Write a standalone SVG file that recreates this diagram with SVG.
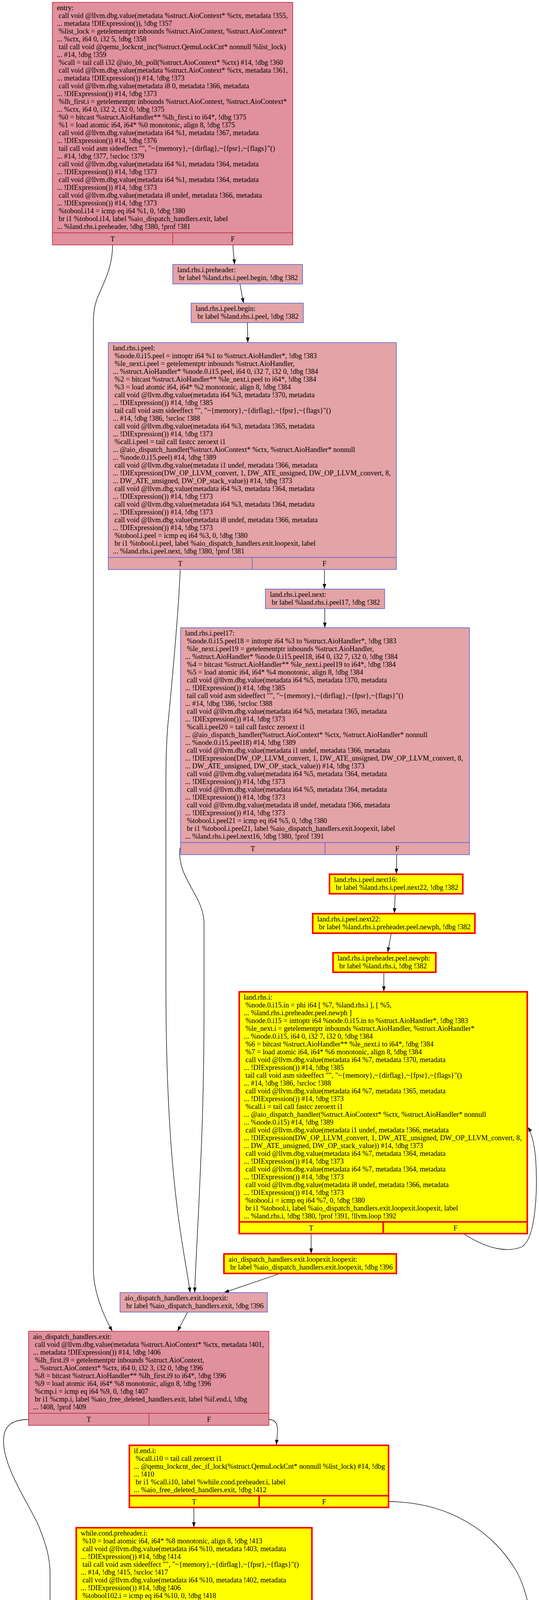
<svg xmlns="http://www.w3.org/2000/svg" width="1379" height="7681" viewBox="0 0 1379 7681">
<style>
.t{font-family:"Liberation Serif","Times New Roman",serif;font-size:18.3px;fill:#000}
.c{text-anchor:middle}
.pr{fill:#e0919d;stroke:#c41e3a;stroke-width:1.5}
.pb{fill:#e4a3a6;stroke:#4b5fd6;stroke-width:1.5}
.y{fill:#ffff00;stroke:#ff0000;stroke-width:4}
.spr{fill:none;stroke:#c41e3a;stroke-width:1.5}
.spb{fill:none;stroke:#4b5fd6;stroke-width:1.5}
.sy{fill:none;stroke:#ff0000;stroke-width:4}
.e{fill:none;stroke:#000;stroke-width:1.3;marker-end:url(#a)}
</style>
<defs>
<marker id="a" markerUnits="userSpaceOnUse" markerWidth="14" markerHeight="10" refX="13" refY="5" orient="auto" viewBox="0 0 14 10"><path d="M0,0.5 L13,5 L0,9.5 z" fill="#000"/></marker>
</defs>
<rect width="1379" height="7681" fill="#fff"/>
<g id="connectors">
<path class="e" d="M596,627 C596,642 599,660 600,677"/>
<path class="e" d="M288,627 C288,680 270,715 250,760 C241,785 239,800 239,830 L239,3250 C239,3300 260,3360 287.5,3408"/>
<path class="e" d="M614,727 C617,745 620,760 623,776"/>
<path class="e" d="M633,826 L634,877"/>
<path class="e" d="M830,1458 L830,1508"/>
<path class="e" d="M461,1458 C458,1550 440,1750 429,1861 C426,1900 424.5,1930 424.5,1990 L424.5,2520 C424.5,2700 430,2900 452,3081 C462,3170 478,3250 486.5,3309"/>
<path class="e" d="M831,1558 L831,1607"/>
<path class="e" d="M1015,2188 L1014,2237"/>
<path class="e" d="M463,2168 C457,2175 459,2200 467,2226 C485,2275 520,2310 522,2360 L522,2590 C522,2800 515,2950 508,3100 C504,3180 500,3250 498,3309"/>
<path class="e" d="M1011,2289 L1009,2338"/>
<path class="e" d="M1001,2389 L992,2438"/>
<path class="e" d="M982,2489 L982,2538"/>
<path class="e" d="M796,3159 L796,3209"/>
<path class="e" d="M1187,3159 C1235,3190 1290,3210 1335,3192 C1372,3170 1376,3040 1370,2960 C1366,2925 1360,2900 1350,2885"/>
<path class="e" d="M717,3260 L573,3309"/>
<path class="e" d="M480,3359 L454,3408"/>
<path class="e" d="M687.5,3634 C700,3634 710,3640 710,3660 C710,3675 708,3688 707,3699"/>
<path class="e" d="M73,3634 C30,3634 9,3650 9,3690 C9,3760 80,3860 100,3909 C120,3960 128,3990 128,4030 L128,7300 C128,7360 150,7415 202,7455"/>
<path class="e" d="M496,3860 L496,3910"/>
<path class="e" d="M995,3844 C1150,3846 1260,3920 1320,4020 C1360,4090 1368,4200 1368,4300 L1368,7220 C1368,7320 1200,7410 793,7496"/>
<path class="e" d="M194,4135 C175,4137 161,4145 161,4180 L161,4240 C161,4330 179,4400 179,4450 L180,7070 C180,7130 240,7180 290,7240 C320,7280 350,7300 383,7314"/>
<path class="e" d="M647,4151 C648,4170 650,4185 652,4200"/>
<path class="e" d="M665,4251 L667,4300"/>
<path class="e" d="M524,4562 L524,4911"/>
<path class="e" d="M985.5,4547 C1010,4547 1030,4570 1033,4611"/>
<path class="e" d="M855,4862 L793,4911"/>
<path class="e" d="M678.5,5312 L678.5,5362"/>
<path class="e" d="M371,5312 C368,5400 364,5500 364,5600 C364,5640 372,5660 385,5682"/>
<path class="e" d="M612,5632 L596,5682"/>
<path class="e" d="M678.5,6043 C678,6065 672,6080 669,6092"/>
<path class="e" d="M216,6027 C210,6027 207,6035 207,6060 L207,6111 C215,6300 240,6500 262,6640 C275,6740 295,6820 343,6863"/>
<path class="e" d="M743,6293 C743,6315 738,6330 735,6343"/>
<path class="e" d="M280.5,6278 C272,6280 268,6290 268,6320 C268,6420 280,6560 314,6595 C335,6615 350,6628 368,6643"/>
<path class="e" d="M630,6593 L627,6643"/>
<path class="e" d="M618,6813 L618,6863"/>
<path class="e" d="M912,7150 C990,7145 1040,7120 1058,7080 C1068,7050 1069,7000 1068,6960 C1066,6880 1040,6760 1020,6680 C1005,6600 992,6400 992,6250 L992,5830 C995,5700 1010,5600 1020,5500 C1030,5300 1010,5150 942,5031 C900,4960 870,4910 835,4893 C790,4887 740,4885 712,4863 C670,4830 648,4700 648,4563"/>
<path class="e" d="M470.5,7164 L470.5,7214"/>
<path class="e" d="M470.5,7265 L470.5,7314"/>
<path class="e" d="M470.5,7404 L470.5,7455"/>
</g>
<g id="entry">
<rect class="pr" x="134" y="6" width="615" height="621"/>
<path class="spr" d="M134,596 H749 M442,596 V627"/>
<text class="t" xml:space="preserve"><tspan x="145.5" y="25.5">entry:</tspan><tspan x="145.5" dy="20"> call void @llvm.dbg.value(metadata %struct.AioContext* %ctx, metadata !355,</tspan><tspan x="145.5" dy="20">... metadata !DIExpression()), !dbg !357</tspan><tspan x="145.5" dy="20"> %list_lock = getelementptr inbounds %struct.AioContext, %struct.AioContext*</tspan><tspan x="145.5" dy="20">... %ctx, i64 0, i32 5, !dbg !358</tspan><tspan x="145.5" dy="20"> tail call void @qemu_lockcnt_inc(%struct.QemuLockCnt* nonnull %list_lock)</tspan><tspan x="145.5" dy="20">... #14, !dbg !359</tspan><tspan x="145.5" dy="20"> %call = tail call i32 @aio_bh_poll(%struct.AioContext* %ctx) #14, !dbg !360</tspan><tspan x="145.5" dy="20"> call void @llvm.dbg.value(metadata %struct.AioContext* %ctx, metadata !361,</tspan><tspan x="145.5" dy="20">... metadata !DIExpression()) #14, !dbg !373</tspan><tspan x="145.5" dy="20"> call void @llvm.dbg.value(metadata i8 0, metadata !366, metadata</tspan><tspan x="145.5" dy="20">... !DIExpression()) #14, !dbg !373</tspan><tspan x="145.5" dy="20"> %lh_first.i = getelementptr inbounds %struct.AioContext, %struct.AioContext*</tspan><tspan x="145.5" dy="20">... %ctx, i64 0, i32 2, i32 0, !dbg !375</tspan><tspan x="145.5" dy="20"> %0 = bitcast %struct.AioHandler** %lh_first.i to i64*, !dbg !375</tspan><tspan x="145.5" dy="20"> %1 = load atomic i64, i64* %0 monotonic, align 8, !dbg !375</tspan><tspan x="145.5" dy="20"> call void @llvm.dbg.value(metadata i64 %1, metadata !367, metadata</tspan><tspan x="145.5" dy="20">... !DIExpression()) #14, !dbg !376</tspan><tspan x="145.5" dy="20"> tail call void asm sideeffect "", "~{memory},~{dirflag},~{fpsr},~{flags}"()</tspan><tspan x="145.5" dy="20">... #14, !dbg !377, !srcloc !379</tspan><tspan x="145.5" dy="20"> call void @llvm.dbg.value(metadata i64 %1, metadata !364, metadata</tspan><tspan x="145.5" dy="20">... !DIExpression()) #14, !dbg !373</tspan><tspan x="145.5" dy="20"> call void @llvm.dbg.value(metadata i64 %1, metadata !364, metadata</tspan><tspan x="145.5" dy="20">... !DIExpression()) #14, !dbg !373</tspan><tspan x="145.5" dy="20"> call void @llvm.dbg.value(metadata i8 undef, metadata !366, metadata</tspan><tspan x="145.5" dy="20">... !DIExpression()) #14, !dbg !373</tspan><tspan x="145.5" dy="20"> %tobool.i14 = icmp eq i64 %1, 0, !dbg !380</tspan><tspan x="145.5" dy="20"> br i1 %tobool.i14, label %aio_dispatch_handlers.exit, label</tspan><tspan x="145.5" dy="20">... %land.rhs.i.preheader, !dbg !380, !prof !381</tspan></text>
<text class="t c" x="288" y="617.5">T</text><text class="t c" x="595.5" y="617.5">F</text>
</g>
<g id="land.rhs.i.preheader">
<rect class="pb" x="442" y="677" width="332" height="50"/>
<text class="t" xml:space="preserve"><tspan x="453.5" y="696.5">land.rhs.i.preheader:</tspan><tspan x="453.5" dy="20"> br label %land.rhs.i.peel.begin, !dbg !382</tspan></text>
</g>
<g id="land.rhs.i.peel.begin">
<rect class="pb" x="489" y="776" width="287" height="50"/>
<text class="t" xml:space="preserve"><tspan x="500.5" y="795.5">land.rhs.i.peel.begin:</tspan><tspan x="500.5" dy="20"> br label %land.rhs.i.peel, !dbg !382</tspan></text>
</g>
<g id="land.rhs.i.peel">
<rect class="pb" x="277" y="877" width="737" height="581"/>
<path class="spb" d="M277,1427 H1014 M645.5,1427 V1458"/>
<text class="t" xml:space="preserve"><tspan x="288.5" y="896.5">land.rhs.i.peel:</tspan><tspan x="288.5" dy="20"> %node.0.i15.peel = inttoptr i64 %1 to %struct.AioHandler*, !dbg !383</tspan><tspan x="288.5" dy="20"> %le_next.i.peel = getelementptr inbounds %struct.AioHandler,</tspan><tspan x="288.5" dy="20">... %struct.AioHandler* %node.0.i15.peel, i64 0, i32 7, i32 0, !dbg !384</tspan><tspan x="288.5" dy="20"> %2 = bitcast %struct.AioHandler** %le_next.i.peel to i64*, !dbg !384</tspan><tspan x="288.5" dy="20"> %3 = load atomic i64, i64* %2 monotonic, align 8, !dbg !384</tspan><tspan x="288.5" dy="20"> call void @llvm.dbg.value(metadata i64 %3, metadata !370, metadata</tspan><tspan x="288.5" dy="20">... !DIExpression()) #14, !dbg !385</tspan><tspan x="288.5" dy="20"> tail call void asm sideeffect "", "~{memory},~{dirflag},~{fpsr},~{flags}"()</tspan><tspan x="288.5" dy="20">... #14, !dbg !386, !srcloc !388</tspan><tspan x="288.5" dy="20"> call void @llvm.dbg.value(metadata i64 %3, metadata !365, metadata</tspan><tspan x="288.5" dy="20">... !DIExpression()) #14, !dbg !373</tspan><tspan x="288.5" dy="20"> %call.i.peel = tail call fastcc zeroext i1</tspan><tspan x="288.5" dy="20">... @aio_dispatch_handler(%struct.AioContext* %ctx, %struct.AioHandler* nonnull</tspan><tspan x="288.5" dy="20">... %node.0.i15.peel) #14, !dbg !389</tspan><tspan x="288.5" dy="20"> call void @llvm.dbg.value(metadata i1 undef, metadata !366, metadata</tspan><tspan x="288.5" dy="20">... !DIExpression(DW_OP_LLVM_convert, 1, DW_ATE_unsigned, DW_OP_LLVM_convert, 8,</tspan><tspan x="288.5" dy="20">... DW_ATE_unsigned, DW_OP_stack_value)) #14, !dbg !373</tspan><tspan x="288.5" dy="20"> call void @llvm.dbg.value(metadata i64 %3, metadata !364, metadata</tspan><tspan x="288.5" dy="20">... !DIExpression()) #14, !dbg !373</tspan><tspan x="288.5" dy="20"> call void @llvm.dbg.value(metadata i64 %3, metadata !364, metadata</tspan><tspan x="288.5" dy="20">... !DIExpression()) #14, !dbg !373</tspan><tspan x="288.5" dy="20"> call void @llvm.dbg.value(metadata i8 undef, metadata !366, metadata</tspan><tspan x="288.5" dy="20">... !DIExpression()) #14, !dbg !373</tspan><tspan x="288.5" dy="20"> %tobool.i.peel = icmp eq i64 %3, 0, !dbg !380</tspan><tspan x="288.5" dy="20"> br i1 %tobool.i.peel, label %aio_dispatch_handlers.exit.loopexit, label</tspan><tspan x="288.5" dy="20">... %land.rhs.i.peel.next, !dbg !380, !prof !381</tspan></text>
<text class="t c" x="461" y="1448.5">T</text><text class="t c" x="830" y="1448.5">F</text>
</g>
<g id="land.rhs.i.peel.next">
<rect class="pb" x="679" y="1508" width="305" height="50"/>
<text class="t" xml:space="preserve"><tspan x="690.5" y="1527.5">land.rhs.i.peel.next:</tspan><tspan x="690.5" dy="20"> br label %land.rhs.i.peel17, !dbg !382</tspan></text>
</g>
<g id="land.rhs.i.peel17">
<rect class="pb" x="462" y="1607" width="739" height="581"/>
<path class="spb" d="M462,2157 H1201 M831.5,2157 V2188"/>
<text class="t" xml:space="preserve"><tspan x="473.5" y="1626.5">land.rhs.i.peel17:</tspan><tspan x="473.5" dy="20"> %node.0.i15.peel18 = inttoptr i64 %3 to %struct.AioHandler*, !dbg !383</tspan><tspan x="473.5" dy="20"> %le_next.i.peel19 = getelementptr inbounds %struct.AioHandler,</tspan><tspan x="473.5" dy="20">... %struct.AioHandler* %node.0.i15.peel18, i64 0, i32 7, i32 0, !dbg !384</tspan><tspan x="473.5" dy="20"> %4 = bitcast %struct.AioHandler** %le_next.i.peel19 to i64*, !dbg !384</tspan><tspan x="473.5" dy="20"> %5 = load atomic i64, i64* %4 monotonic, align 8, !dbg !384</tspan><tspan x="473.5" dy="20"> call void @llvm.dbg.value(metadata i64 %5, metadata !370, metadata</tspan><tspan x="473.5" dy="20">... !DIExpression()) #14, !dbg !385</tspan><tspan x="473.5" dy="20"> tail call void asm sideeffect "", "~{memory},~{dirflag},~{fpsr},~{flags}"()</tspan><tspan x="473.5" dy="20">... #14, !dbg !386, !srcloc !388</tspan><tspan x="473.5" dy="20"> call void @llvm.dbg.value(metadata i64 %5, metadata !365, metadata</tspan><tspan x="473.5" dy="20">... !DIExpression()) #14, !dbg !373</tspan><tspan x="473.5" dy="20"> %call.i.peel20 = tail call fastcc zeroext i1</tspan><tspan x="473.5" dy="20">... @aio_dispatch_handler(%struct.AioContext* %ctx, %struct.AioHandler* nonnull</tspan><tspan x="473.5" dy="20">... %node.0.i15.peel18) #14, !dbg !389</tspan><tspan x="473.5" dy="20"> call void @llvm.dbg.value(metadata i1 undef, metadata !366, metadata</tspan><tspan x="473.5" dy="20">... !DIExpression(DW_OP_LLVM_convert, 1, DW_ATE_unsigned, DW_OP_LLVM_convert, 8,</tspan><tspan x="473.5" dy="20">... DW_ATE_unsigned, DW_OP_stack_value)) #14, !dbg !373</tspan><tspan x="473.5" dy="20"> call void @llvm.dbg.value(metadata i64 %5, metadata !364, metadata</tspan><tspan x="473.5" dy="20">... !DIExpression()) #14, !dbg !373</tspan><tspan x="473.5" dy="20"> call void @llvm.dbg.value(metadata i64 %5, metadata !364, metadata</tspan><tspan x="473.5" dy="20">... !DIExpression()) #14, !dbg !373</tspan><tspan x="473.5" dy="20"> call void @llvm.dbg.value(metadata i8 undef, metadata !366, metadata</tspan><tspan x="473.5" dy="20">... !DIExpression()) #14, !dbg !373</tspan><tspan x="473.5" dy="20"> %tobool.i.peel21 = icmp eq i64 %5, 0, !dbg !380</tspan><tspan x="473.5" dy="20"> br i1 %tobool.i.peel21, label %aio_dispatch_handlers.exit.loopexit, label</tspan><tspan x="473.5" dy="20">... %land.rhs.i.peel.next16, !dbg !380, !prof !391</tspan></text>
<text class="t c" x="646.75" y="2178.5">T</text><text class="t c" x="1016.25" y="2178.5">F</text>
</g>
<g id="land.rhs.i.peel.next16">
<rect class="y" x="843" y="2238" width="341" height="50"/>
<text class="t" xml:space="preserve"><tspan x="854.5" y="2257.5">land.rhs.i.peel.next16:</tspan><tspan x="854.5" dy="20"> br label %land.rhs.i.peel.next22, !dbg !382</tspan></text>
</g>
<g id="land.rhs.i.peel.next22">
<rect class="y" x="800" y="2339" width="415" height="50"/>
<text class="t" xml:space="preserve"><tspan x="811.5" y="2358.5">land.rhs.i.peel.next22:</tspan><tspan x="811.5" dy="20"> br label %land.rhs.i.preheader.peel.newph, !dbg !382</tspan></text>
</g>
<g id="land.rhs.i.preheader.peel.newph">
<rect class="y" x="852" y="2439" width="263" height="50"/>
<text class="t" xml:space="preserve"><tspan x="863.5" y="2458.5">land.rhs.i.preheader.peel.newph:</tspan><tspan x="863.5" dy="20"> br label %land.rhs.i, !dbg !382</tspan></text>
</g>
<g id="land.rhs.i">
<rect class="y" x="612" y="2539" width="737" height="619"/>
<path class="sy" d="M612,3128 H1349 M980.5,3128 V3158"/>
<text class="t" xml:space="preserve"><tspan x="623.5" y="2558.5">land.rhs.i:</tspan><tspan x="623.5" dy="20"> %node.0.i15.in = phi i64 [ %7, %land.rhs.i ], [ %5,</tspan><tspan x="623.5" dy="20">... %land.rhs.i.preheader.peel.newph ]</tspan><tspan x="623.5" dy="20"> %node.0.i15 = inttoptr i64 %node.0.i15.in to %struct.AioHandler*, !dbg !383</tspan><tspan x="623.5" dy="20"> %le_next.i = getelementptr inbounds %struct.AioHandler, %struct.AioHandler*</tspan><tspan x="623.5" dy="20">... %node.0.i15, i64 0, i32 7, i32 0, !dbg !384</tspan><tspan x="623.5" dy="20"> %6 = bitcast %struct.AioHandler** %le_next.i to i64*, !dbg !384</tspan><tspan x="623.5" dy="20"> %7 = load atomic i64, i64* %6 monotonic, align 8, !dbg !384</tspan><tspan x="623.5" dy="20"> call void @llvm.dbg.value(metadata i64 %7, metadata !370, metadata</tspan><tspan x="623.5" dy="20">... !DIExpression()) #14, !dbg !385</tspan><tspan x="623.5" dy="20"> tail call void asm sideeffect "", "~{memory},~{dirflag},~{fpsr},~{flags}"()</tspan><tspan x="623.5" dy="20">... #14, !dbg !386, !srcloc !388</tspan><tspan x="623.5" dy="20"> call void @llvm.dbg.value(metadata i64 %7, metadata !365, metadata</tspan><tspan x="623.5" dy="20">... !DIExpression()) #14, !dbg !373</tspan><tspan x="623.5" dy="20"> %call.i = tail call fastcc zeroext i1</tspan><tspan x="623.5" dy="20">... @aio_dispatch_handler(%struct.AioContext* %ctx, %struct.AioHandler* nonnull</tspan><tspan x="623.5" dy="20">... %node.0.i15) #14, !dbg !389</tspan><tspan x="623.5" dy="20"> call void @llvm.dbg.value(metadata i1 undef, metadata !366, metadata</tspan><tspan x="623.5" dy="20">... !DIExpression(DW_OP_LLVM_convert, 1, DW_ATE_unsigned, DW_OP_LLVM_convert, 8,</tspan><tspan x="623.5" dy="20">... DW_ATE_unsigned, DW_OP_stack_value)) #14, !dbg !373</tspan><tspan x="623.5" dy="20"> call void @llvm.dbg.value(metadata i64 %7, metadata !364, metadata</tspan><tspan x="623.5" dy="20">... !DIExpression()) #14, !dbg !373</tspan><tspan x="623.5" dy="20"> call void @llvm.dbg.value(metadata i64 %7, metadata !364, metadata</tspan><tspan x="623.5" dy="20">... !DIExpression()) #14, !dbg !373</tspan><tspan x="623.5" dy="20"> call void @llvm.dbg.value(metadata i8 undef, metadata !366, metadata</tspan><tspan x="623.5" dy="20">... !DIExpression()) #14, !dbg !373</tspan><tspan x="623.5" dy="20"> %tobool.i = icmp eq i64 %7, 0, !dbg !380</tspan><tspan x="623.5" dy="20"> br i1 %tobool.i, label %aio_dispatch_handlers.exit.loopexit.loopexit, label</tspan><tspan x="623.5" dy="20">... %land.rhs.i, !dbg !380, !prof !391, !llvm.loop !392</tspan></text>
<text class="t c" x="796" y="3149.5">T</text><text class="t c" x="1165" y="3149.5">F</text>
</g>
<g id="aio_dispatch_handlers.exit.loopexit.loopexit">
<rect class="y" x="573" y="3210" width="441" height="50"/>
<text class="t" xml:space="preserve"><tspan x="584.5" y="3229.5">aio_dispatch_handlers.exit.loopexit.loopexit:</tspan><tspan x="584.5" dy="20"> br label %aio_dispatch_handlers.exit.loopexit, !dbg !396</tspan></text>
</g>
<g id="aio_dispatch_handlers.exit.loopexit">
<rect class="pb" x="307" y="3309" width="377" height="50"/>
<text class="t" xml:space="preserve"><tspan x="318.5" y="3328.5">aio_dispatch_handlers.exit.loopexit:</tspan><tspan x="318.5" dy="20"> br label %aio_dispatch_handlers.exit, !dbg !396</tspan></text>
</g>
<g id="aio_dispatch_handlers.exit">
<rect class="pr" x="73" y="3408" width="615" height="241"/>
<path class="spr" d="M73,3618 H688 M381,3618 V3649"/>
<text class="t" xml:space="preserve"><tspan x="84.5" y="3427.5">aio_dispatch_handlers.exit:</tspan><tspan x="84.5" dy="20"> call void @llvm.dbg.value(metadata %struct.AioContext* %ctx, metadata !401,</tspan><tspan x="84.5" dy="20">... metadata !DIExpression()) #14, !dbg !406</tspan><tspan x="84.5" dy="20"> %lh_first.i9 = getelementptr inbounds %struct.AioContext,</tspan><tspan x="84.5" dy="20">... %struct.AioContext* %ctx, i64 0, i32 3, i32 0, !dbg !396</tspan><tspan x="84.5" dy="20"> %8 = bitcast %struct.AioHandler** %lh_first.i9 to i64*, !dbg !396</tspan><tspan x="84.5" dy="20"> %9 = load atomic i64, i64* %8 monotonic, align 8, !dbg !396</tspan><tspan x="84.5" dy="20"> %cmp.i = icmp eq i64 %9, 0, !dbg !407</tspan><tspan x="84.5" dy="20"> br i1 %cmp.i, label %aio_free_deleted_handlers.exit, label %if.end.i, !dbg</tspan><tspan x="84.5" dy="20">... !408, !prof !409</tspan></text>
<text class="t c" x="227" y="3639.5">T</text><text class="t c" x="534.5" y="3639.5">F</text>
</g>
<g id="if.end.i">
<rect class="y" x="331" y="3700" width="663" height="159"/>
<path class="sy" d="M331,3829 H994 M663,3829 V3859"/>
<text class="t" xml:space="preserve"><tspan x="342.5" y="3719.5">if.end.i:</tspan><tspan x="342.5" dy="20"> %call.i10 = tail call zeroext i1</tspan><tspan x="342.5" dy="20">... @qemu_lockcnt_dec_if_lock(%struct.QemuLockCnt* nonnull %list_lock) #14, !dbg</tspan><tspan x="342.5" dy="20">... !410</tspan><tspan x="342.5" dy="20"> br i1 %call.i10, label %while.cond.preheader.i, label</tspan><tspan x="342.5" dy="20">... %aio_free_deleted_handlers.exit, !dbg !412</tspan></text>
<text class="t c" x="496.5" y="3850.5">T</text><text class="t c" x="829" y="3850.5">F</text>
</g>
<g id="while.cond.preheader.i">
<rect class="y" x="195" y="3911" width="603" height="239"/>
<path class="sy" d="M195,4120 H798 M496.5,4120 V4150"/>
<text class="t" xml:space="preserve"><tspan x="206.5" y="3930.5">while.cond.preheader.i:</tspan><tspan x="206.5" dy="20"> %10 = load atomic i64, i64* %8 monotonic, align 8, !dbg !413</tspan><tspan x="206.5" dy="20"> call void @llvm.dbg.value(metadata i64 %10, metadata !403, metadata</tspan><tspan x="206.5" dy="20">... !DIExpression()) #14, !dbg !414</tspan><tspan x="206.5" dy="20"> tail call void asm sideeffect "", "~{memory},~{dirflag},~{fpsr},~{flags}"()</tspan><tspan x="206.5" dy="20">... #14, !dbg !415, !srcloc !417</tspan><tspan x="206.5" dy="20"> call void @llvm.dbg.value(metadata i64 %10, metadata !402, metadata</tspan><tspan x="206.5" dy="20">... !DIExpression()) #14, !dbg !406</tspan><tspan x="206.5" dy="20"> %tobool102.i = icmp eq i64 %10, 0, !dbg !418</tspan><tspan x="206.5" dy="20"> br i1 %tobool102.i, label %while.end.i, label %do.body.i.preheader, !dbg !418</tspan></text>
<text class="t c" x="345.5" y="4141.5">T</text><text class="t c" x="647.5" y="4141.5">F</text>
</g>
<g id="do.body.i.preheader">
<rect class="y" x="536.5" y="4201" width="252.5" height="50"/>
<text class="t" xml:space="preserve"><tspan x="548" y="4220.5">do.body.i.preheader:</tspan><tspan x="548" dy="20"> br label %do.body.i, !dbg !418</tspan></text>
</g>
<g id="do.body.i">
<rect class="y" x="371" y="4301" width="613.5" height="261"/>
<path class="sy" d="M371,4531 H984.5 M678.5,4531 V4562"/>
<text class="t" xml:space="preserve"><tspan x="382.5" y="4320.5">do.body.i:</tspan><tspan x="382.5" dy="20"> %.in.i = phi i64 [ %35, %do.end69.i ], [ %10, %do.body.i.preheader ]</tspan><tspan x="382.5" dy="20"> %11 = inttoptr i64 %.in.i to %struct.AioHandler*, !dbg !413</tspan><tspan x="382.5" dy="20"> %node6.i = getelementptr inbounds %struct.AioHandler, %struct.AioHandler*</tspan><tspan x="382.5" dy="20">... %11, i64 0, i32 7, !dbg !419</tspan><tspan x="382.5" dy="20"> %le_next.i11 = getelementptr inbounds %struct.anon, %struct.anon* %node6.i,</tspan><tspan x="382.5" dy="20">... i64 0, i32 0, !dbg !419</tspan><tspan x="382.5" dy="20"> %12 = load %struct.AioHandler*, %struct.AioHandler** %le_next.i11, align 8,</tspan><tspan x="382.5" dy="20">... !dbg !419</tspan><tspan x="382.5" dy="20"> %cmp7.i = icmp eq %struct.AioHandler* %12, null, !dbg !419</tspan><tspan x="382.5" dy="20"> br i1 %cmp7.i, label %if.end14.i, label %if.then8.i, !dbg !423</tspan></text>
<text class="t c" x="524.5" y="4552.5">T</text><text class="t c" x="831.5" y="4552.5">F</text>
</g>
<g id="if.then8.i">
<rect class="y" x="716" y="4612" width="615" height="249"/>
<text class="t" xml:space="preserve"><tspan x="727.5" y="4631.5">if.then8.i:</tspan><tspan x="727.5" dy="20"> %le_prev.i = getelementptr inbounds %struct.AioHandler, %struct.AioHandler*</tspan><tspan x="727.5" dy="20">... %11, i64 0, i32 7, i32 1, !dbg !419</tspan><tspan x="727.5" dy="20"> %13 = bitcast %struct.AioHandler*** %le_prev.i to i64*, !dbg !419</tspan><tspan x="727.5" dy="20"> %14 = load i64, i64* %13, align 8, !dbg !419</tspan><tspan x="727.5" dy="20"> %le_prev13.i = getelementptr inbounds %struct.AioHandler,</tspan><tspan x="727.5" dy="20">... %struct.AioHandler* %12, i64 0, i32 7, i32 1, !dbg !419</tspan><tspan x="727.5" dy="20"> %15 = bitcast %struct.AioHandler*** %le_prev13.i to i64*, !dbg !419</tspan><tspan x="727.5" dy="20"> store i64 %14, i64* %15, align 8, !dbg !419</tspan><tspan x="727.5" dy="20"> %.phi.trans.insert.i = bitcast %struct.anon* %node6.i to i64*, !dbg !424</tspan><tspan x="727.5" dy="20"> %.pre.i = load i64, i64* %.phi.trans.insert.i, align 8, !dbg !423</tspan><tspan x="727.5" dy="20"> br label %if.end14.i, !dbg !419</tspan></text>
</g>
<g id="if.end14.i">
<rect class="y" x="217" y="4912" width="614" height="400"/>
<path class="sy" d="M217,5281 H831 M525.5,5281 V5312"/>
<text class="t" xml:space="preserve"><tspan x="228.5" y="4931.5">if.end14.i:</tspan><tspan x="228.5" dy="20"> %16 = phi i64 [ %.pre.i, %if.then8.i ], [ 0, %do.body.i ], !dbg !423</tspan><tspan x="228.5" dy="20"> %le_prev18.i = getelementptr inbounds %struct.AioHandler,</tspan><tspan x="228.5" dy="20">... %struct.AioHandler* %11, i64 0, i32 7, i32 1, !dbg !423</tspan><tspan x="228.5" dy="20"> %17 = bitcast %struct.AioHandler*** %le_prev18.i to i64**, !dbg !423</tspan><tspan x="228.5" dy="20"> %18 = load i64*, i64** %17, align 8, !dbg !423</tspan><tspan x="228.5" dy="20"> store i64 %16, i64* %18, align 8, !dbg !423</tspan><tspan x="228.5" dy="20"> %node_deleted.i = getelementptr inbounds %struct.AioHandler,</tspan><tspan x="228.5" dy="20">... %struct.AioHandler* %11, i64 0, i32 9, !dbg !425</tspan><tspan x="228.5" dy="20"> %le_next24.i = getelementptr inbounds %struct.anon.1, %struct.anon.1*</tspan><tspan x="228.5" dy="20">... %node_deleted.i, i64 0, i32 0, !dbg !425</tspan><tspan x="228.5" dy="20"> %19 = bitcast %struct.anon* %node6.i to i8*, !dbg !425</tspan><tspan x="228.5" dy="20"> tail call void @llvm.memset.p0i8.i64(i8* nonnull align 8 dereferenceable(16)</tspan><tspan x="228.5" dy="20">... %19, i8 0, i64 16, i1 false) #14, !dbg !423</tspan><tspan x="228.5" dy="20"> %20 = load %struct.AioHandler*, %struct.AioHandler** %le_next24.i, align 8,</tspan><tspan x="228.5" dy="20">... !dbg !425</tspan><tspan x="228.5" dy="20"> %cmp25.i = icmp eq %struct.AioHandler* %20, null, !dbg !425</tspan><tspan x="228.5" dy="20"> br i1 %cmp25.i, label %if.end33.i, label %if.then26.i, !dbg !428</tspan></text>
<text class="t c" x="371" y="5302.5">T</text><text class="t c" x="678.5" y="5302.5">F</text>
</g>
<g id="if.then26.i">
<rect class="y" x="379.5" y="5363" width="572" height="269"/>
<text class="t" xml:space="preserve"><tspan x="391" y="5382.5">if.then26.i:</tspan><tspan x="391" dy="20"> %le_prev28.i = getelementptr inbounds %struct.AioHandler,</tspan><tspan x="391" dy="20">... %struct.AioHandler* %11, i64 0, i32 9, i32 1, !dbg !425</tspan><tspan x="391" dy="20"> %21 = bitcast %struct.AioHandler*** %le_prev28.i to i64*, !dbg !425</tspan><tspan x="391" dy="20"> %22 = load i64, i64* %21, align 8, !dbg !425</tspan><tspan x="391" dy="20"> %le_prev32.i = getelementptr inbounds %struct.AioHandler,</tspan><tspan x="391" dy="20">... %struct.AioHandler* %20, i64 0, i32 9, i32 1, !dbg !425</tspan><tspan x="391" dy="20"> %23 = bitcast %struct.AioHandler*** %le_prev32.i to i64*, !dbg !425</tspan><tspan x="391" dy="20"> store i64 %22, i64* %23, align 8, !dbg !425</tspan><tspan x="391" dy="20"> %.phi.trans.insert103.i = bitcast %struct.anon.1* %node_deleted.i to i64*,</tspan><tspan x="391" dy="20">... !dbg !429</tspan><tspan x="391" dy="20"> %.pre104.i = load i64, i64* %.phi.trans.insert103.i, align 8, !dbg !428</tspan><tspan x="391" dy="20"> br label %if.end33.i, !dbg !425</tspan></text>
</g>
<g id="if.end33.i">
<rect class="y" x="217" y="5683" width="614" height="360"/>
<path class="sy" d="M217,6012 H831 M525.5,6012 V6043"/>
<text class="t" xml:space="preserve"><tspan x="228.5" y="5702.5">if.end33.i:</tspan><tspan x="228.5" dy="20"> %24 = phi i64 [ %.pre104.i, %if.then26.i ], [ 0, %if.end14.i ], !dbg !428</tspan><tspan x="228.5" dy="20"> %le_prev37.i = getelementptr inbounds %struct.AioHandler,</tspan><tspan x="228.5" dy="20">... %struct.AioHandler* %11, i64 0, i32 9, i32 1, !dbg !428</tspan><tspan x="228.5" dy="20"> %25 = bitcast %struct.AioHandler*** %le_prev37.i to i64**, !dbg !428</tspan><tspan x="228.5" dy="20"> %26 = load i64*, i64** %25, align 8, !dbg !428</tspan><tspan x="228.5" dy="20"> store i64 %24, i64* %26, align 8, !dbg !428</tspan><tspan x="228.5" dy="20"> %le_prev45.i = getelementptr inbounds %struct.AioHandler,</tspan><tspan x="228.5" dy="20">... %struct.AioHandler* %11, i64 0, i32 10, i32 1, !dbg !430</tspan><tspan x="228.5" dy="20"> %27 = bitcast %struct.anon.1* %node_deleted.i to i8*, !dbg !430</tspan><tspan x="228.5" dy="20"> tail call void @llvm.memset.p0i8.i64(i8* nonnull align 8 dereferenceable(16)</tspan><tspan x="228.5" dy="20">... %27, i8 0, i64 16, i1 false) #14, !dbg !428</tspan><tspan x="228.5" dy="20"> %28 = load %struct.AioHandler**, %struct.AioHandler*** %le_prev45.i, align</tspan><tspan x="228.5" dy="20">... 8, !dbg !430</tspan><tspan x="228.5" dy="20"> %cmp46.i = icmp eq %struct.AioHandler** %28, null, !dbg !430</tspan><tspan x="228.5" dy="20"> br i1 %cmp46.i, label %do.end69.i, label %if.then47.i, !dbg !433</tspan></text>
<text class="t c" x="371" y="6033.5">T</text><text class="t c" x="678.5" y="6033.5">F</text>
</g>
<g id="if.then47.i">
<rect class="y" x="281.5" y="6093" width="614" height="200"/>
<path class="sy" d="M281.5,6262 H895.5 M589,6262 V6293"/>
<text class="t" xml:space="preserve"><tspan x="293" y="6112.5">if.then47.i:</tspan><tspan x="293" dy="20"> %29 = bitcast %struct.AioHandler** %28 to i64*, !dbg !433</tspan><tspan x="293" dy="20"> %le_next49.i = getelementptr inbounds %struct.AioHandler,</tspan><tspan x="293" dy="20">... %struct.AioHandler* %11, i64 0, i32 10, i32 0, !dbg !434</tspan><tspan x="293" dy="20"> %30 = load %struct.AioHandler*, %struct.AioHandler** %le_next49.i, align 8,</tspan><tspan x="293" dy="20">... !dbg !434</tspan><tspan x="293" dy="20"> %cmp50.i = icmp eq %struct.AioHandler* %30, null, !dbg !434</tspan><tspan x="293" dy="20"> br i1 %cmp50.i, label %if.end58.i, label %if.then51.i, !dbg !437</tspan></text>
<text class="t c" x="435" y="6283.5">T</text><text class="t c" x="742.5" y="6283.5">F</text>
</g>
<g id="if.then51.i">
<rect class="y" x="331" y="6344" width="620.5" height="249"/>
<text class="t" xml:space="preserve"><tspan x="342.5" y="6363.5">if.then51.i:</tspan><tspan x="342.5" dy="20"> %le_prev57.i = getelementptr inbounds %struct.AioHandler,</tspan><tspan x="342.5" dy="20">... %struct.AioHandler* %30, i64 0, i32 10, i32 1, !dbg !434</tspan><tspan x="342.5" dy="20"> store %struct.AioHandler** %28, %struct.AioHandler*** %le_prev57.i, align 8,</tspan><tspan x="342.5" dy="20">... !dbg !434</tspan><tspan x="342.5" dy="20"> %.phi.trans.insert105.i = bitcast %struct.AioHandler** %le_next49.i to i64*,</tspan><tspan x="342.5" dy="20">... !dbg !438</tspan><tspan x="342.5" dy="20"> %.pre106.i = load i64, i64* %.phi.trans.insert105.i, align 8, !dbg !437</tspan><tspan x="342.5" dy="20"> %.phi.trans.insert107.i = bitcast %struct.AioHandler*** %le_prev45.i to</tspan><tspan x="342.5" dy="20">... i64**, !dbg !438</tspan><tspan x="342.5" dy="20"> %.pre108.i = load i64*, i64** %.phi.trans.insert107.i, align 8, !dbg !437</tspan><tspan x="342.5" dy="20"> br label %if.end58.i, !dbg !434</tspan></text>
</g>
<g id="if.end58.i">
<rect class="y" x="318.5" y="6644" width="597.5" height="169"/>
<text class="t" xml:space="preserve"><tspan x="330" y="6663.5">if.end58.i:</tspan><tspan x="330" dy="20"> %31 = phi i64* [ %.pre108.i, %if.then51.i ], [ %29, %if.then47.i ], !dbg !437</tspan><tspan x="330" dy="20"> %32 = phi i64 [ %.pre106.i, %if.then51.i ], [ 0, %if.then47.i ], !dbg !437</tspan><tspan x="330" dy="20"> store i64 %32, i64* %31, align 8, !dbg !437</tspan><tspan x="330" dy="20"> %33 = bitcast %struct.AioHandler** %le_next49.i to i8*, !dbg !437</tspan><tspan x="330" dy="20"> tail call void @llvm.memset.p0i8.i64(i8* nonnull align 8 dereferenceable(16)</tspan><tspan x="330" dy="20">... %33, i8 0, i64 16, i1 false) #14, !dbg !437</tspan><tspan x="330" dy="20"> br label %do.end69.i, !dbg !437</tspan></text>
</g>
<g id="do.end69.i">
<rect class="y" x="324.5" y="6864" width="586.5" height="300"/>
<path class="sy" d="M324.5,7133 H911 M618,7133 V7164"/>
<text class="t" xml:space="preserve"><tspan x="336" y="6883.5">do.end69.i:</tspan><tspan x="336" dy="20"> %34 = inttoptr i64 %.in.i to i8*, !dbg !439</tspan><tspan x="336" dy="20"> tail call void @g_free(i8* nonnull %34) #14, !dbg !440</tspan><tspan x="336" dy="20"> %35 = load atomic i64, i64* %8 monotonic, align 8, !dbg !413</tspan><tspan x="336" dy="20"> call void @llvm.dbg.value(metadata i64 %35, metadata !403, metadata</tspan><tspan x="336" dy="20">... !DIExpression()) #14, !dbg !414</tspan><tspan x="336" dy="20"> tail call void asm sideeffect "", "~{memory},~{dirflag},~{fpsr},~{flags}"()</tspan><tspan x="336" dy="20">... #14, !dbg !415, !srcloc !417</tspan><tspan x="336" dy="20"> call void @llvm.dbg.value(metadata i64 %35, metadata !402, metadata</tspan><tspan x="336" dy="20">... !DIExpression()) #14, !dbg !406</tspan><tspan x="336" dy="20"> %tobool.i12 = icmp eq i64 %35, 0, !dbg !418</tspan><tspan x="336" dy="20"> br i1 %tobool.i12, label %while.end.i.loopexit, label %do.body.i, !dbg !418,</tspan><tspan x="336" dy="20">... !llvm.loop !441</tspan></text>
<text class="t c" x="471" y="7154.5">T</text><text class="t c" x="765" y="7154.5">F</text>
</g>
<g id="while.end.i.loopexit">
<rect class="y" x="338.5" y="7215" width="264.5" height="50"/>
<text class="t" xml:space="preserve"><tspan x="350" y="7234.5">while.end.i.loopexit:</tspan><tspan x="350" dy="20"> br label %while.end.i, !dbg !443</tspan></text>
</g>
<g id="while.end.i">
<rect class="y" x="165.5" y="7315" width="611" height="89"/>
<text class="t" xml:space="preserve"><tspan x="177" y="7334.5">while.end.i:</tspan><tspan x="177" dy="20"> tail call void @qemu_lockcnt_inc_and_unlock(%struct.QemuLockCnt* nonnull</tspan><tspan x="177" dy="20">... %list_lock) #14, !dbg !443</tspan><tspan x="177" dy="20"> br label %aio_free_deleted_handlers.exit, !dbg !444</tspan></text>
</g>
<g id="aio_free_deleted_handlers.exit">
<rect class="pr" x="149.5" y="7455" width="643" height="190"/>
<text class="t" xml:space="preserve"><tspan x="161" y="7474.5">aio_free_deleted_handlers.exit:</tspan><tspan x="161" dy="20"> tail call void @qemu_lockcnt_dec(%struct.QemuLockCnt* nonnull %list_lock)</tspan><tspan x="161" dy="20">... #14, !dbg !445</tspan><tspan x="161" dy="20"> %tlg = getelementptr inbounds %struct.AioContext, %struct.AioContext* %ctx,</tspan><tspan x="161" dy="20">... i64 0, i32 13, !dbg !446</tspan><tspan x="161" dy="20"> %call3 = tail call zeroext i1</tspan><tspan x="161" dy="20">... @timerlistgroup_run_timers(%struct.QEMUTimerListGroup* nonnull %tlg) #14,</tspan><tspan x="161" dy="20">... !dbg !447</tspan><tspan x="161" dy="20"> ret void, !dbg !448</tspan></text>
</g>
<text class="t c" x="688.5" y="7666">CFG for 'aio_dispatch' function</text>
</svg>
